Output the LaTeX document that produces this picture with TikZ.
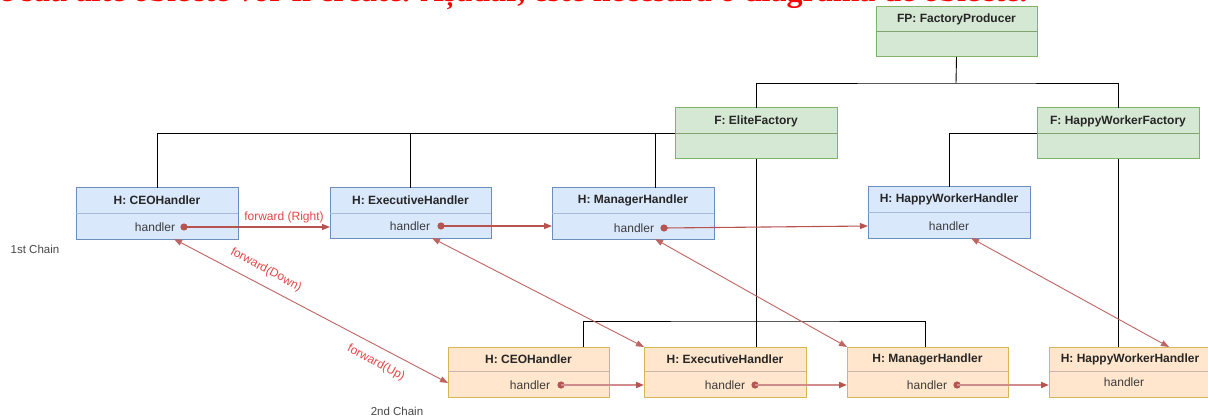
\documentclass[tikz,border=0pt]{standalone}
\usepackage{fontspec}
\setmainfont{Liberation Sans}
\newfontfamily\titleserif{Liberation Serif}
\usetikzlibrary{arrows.meta}
\definecolor{bfill}{HTML}{DAE8FC}\definecolor{bline}{HTML}{6C8EBF}
\definecolor{ofill}{HTML}{FFE6CC}\definecolor{oline}{HTML}{D6B656}
\definecolor{gfill}{HTML}{D5E8D4}\definecolor{gline}{HTML}{82B366}
\definecolor{fwdc}{HTML}{B85450}
\definecolor{fwdl}{RGB}{208,140,140}
\definecolor{lblc}{HTML}{E04848}
\definecolor{txtc}{HTML}{262626}
\newcommand{\umlbox}[8]{%
  \node[#2, anchor=north west, minimum width={(#5-#3)*1pt}, minimum height={(#6-#4)*1pt}] (#1) at (#3,#4) {};
  \draw[#2div] (#1.west |- 0,#7) -- (#1.east |- 0,#7);
  \node[ttl] (#1-t) at ({(#3+#5)/2},{(#4+#7)/2}) {#8};
}
\newcommand{\hdl}[3]{\node[hdlt] (#1-h) at (#2,#3) {handler};}
\newcommand{\hdldot}[4]{\node[hdlt] (#1-h) at (#2,#3) {handler};
  \coordinate (#1-d) at (#4,#3);
  \fill[fwdc] (#1-d) circle (3.6pt);}
\begin{document}
\begin{tikzpicture}[x=1pt,y=-1pt,
  bbox/.style={draw=bline, fill=bfill, line width=1pt, inner sep=0pt, outer sep=0pt},
  bboxdiv/.style={draw=bline!60, line width=1pt},
  obox/.style={draw=oline, fill=ofill, line width=1pt, inner sep=0pt, outer sep=0pt},
  oboxdiv/.style={draw={rgb,255:red,200;green,180;blue,170}, line width=1pt},
  gbox/.style={draw=gline, fill=gfill, line width=1pt, inner sep=0pt, outer sep=0pt},
  gboxdiv/.style={draw=gline!70!gray, line width=1pt},
  ttl/.style={font=\bfseries\fontsize{12}{14}\selectfont, text=txtc, inner sep=0pt},
  hdlt/.style={font=\fontsize{12}{14}\selectfont, text=txtc!90, inner sep=0pt},
  tree/.style={draw=black, line width=0.9pt},
  fwdA/.style={draw=fwdc, line width=1.1pt, -{Triangle[length=8pt,width=6pt]}},
  fwdB/.style={draw=fwdl, line width=1.8pt, -{Triangle[length=8pt,width=6pt,color=fwdc]}},
  bi/.style={draw=fwdc!90, line width=0.9pt, {Triangle[length=8pt,width=6pt]}-{Triangle[length=8pt,width=6pt]}},
  lbl/.style={font=\fontsize{12}{14}\selectfont, text=lblc, inner sep=0pt},
  chain/.style={font=\fontsize{11.5}{13}\selectfont, text=txtc!85, inner sep=0pt}]
\useasboundingbox (0,0) rectangle (1208,417);
\clip (0,0) rectangle (1208,417);
\fill[white] (0,0) rectangle (1208,417);
% clipped heading
\node[anchor=base west, inner sep=0pt, text=red, font=\titleserif\bfseries\fontsize{32}{36}\selectfont] (heading) at (-1,2) {e sau alte obiecte vor fi create. Așadar, este necesară o diagramă de obiecte.};
% boxes
\umlbox{fp}{gbox}{876}{7}{1037}{57}{32}{FP: FactoryProducer}
\umlbox{ef}{gbox}{675}{108}{837}{159}{134}{F: EliteFactory}
\umlbox{hwf}{gbox}{1037}{108}{1199}{159}{134}{F: HappyWorkerFactory}
\umlbox{ceoA}{bbox}{76}{188}{238}{239}{213}{H: CEOHandler}
\umlbox{execA}{bbox}{330}{188}{491}{238}{213}{H: ExecutiveHandler}
\umlbox{mgrA}{bbox}{552}{188}{714}{239}{213}{H: ManagerHandler}
\umlbox{hwA}{bbox}{868}{187}{1030}{238}{212}{H: HappyWorkerHandler}
\umlbox{ceoB}{obox}{448}{347}{609}{397}{371}{H: CEOHandler}
\umlbox{execB}{obox}{644}{347}{806}{397}{371}{H: ExecutiveHandler}
\umlbox{mgrB}{obox}{847}{347}{1008}{397}{371}{H: ManagerHandler}
\umlbox{hwB}{obox}{1049}{347}{1211}{397}{371}{H: HappyWorkerHandler}
% handler rows
\hdldot{ceoA}{155}{227}{184}
\hdldot{execA}{410}{226}{441}
\hdldot{mgrA}{634}{228}{664}
\hdl{hwA}{949}{226}
\hdldot{ceoB}{530}{385}{561}
\hdldot{execB}{725}{385}{755}
\hdldot{mgrB}{927}{385}{957}
\hdl{hwB}{1124}{382}
% tree connectors
\coordinate (fpbus) at (956,83);
\draw[tree] (fp.south) -- (fpbus);
\draw[tree] (ef.north) |- (fpbus) -| (hwf.north);
\draw[tree] (ef.west) -| (ceoA.north);
\draw[tree] (execA.north) -- (execA.north |- ef.west);
\draw[tree] (655,0 |- mgrA.north) -- (655,0 |- ef.west);
\draw[tree] (hwf.west) -| (hwA.north);
\draw[tree] (hwf.south) -- (hwf.south |- hwB.north);
\coordinate (busB) at (756,321);
\draw[tree] (ef.south) -- (ef.south |- execB.north);
\draw[tree] (583,0 |- ceoB.north) |- (busB) -| (925,0 |- mgrB.north);
% chain 1
\draw[fwdA] (ceoA-d) -- (execA.west |- ceoA-d);
\draw[fwdA] (execA-d) -- (mgrA.west |- execA-d);
\draw[fwdA] (mgrA-d) -- (hwA.west |- hwA-h);
\node[lbl] (lblR) at (284,217) {forward (Right)};
% chain 2
\draw[fwdB] (ceoB-d) -- (execB.west |- ceoB-d);
\draw[fwdB] (execB-d) -- (mgrB.west |- execB-d);
\draw[fwdB] (mgrB-d) -- (hwB.west |- mgrB-d);
% diagonals
\draw[bi] (174,0 |- ceoA.south) -- (ceoB.west |- 0,383);
\draw[bi] (432,0 |- execA.south) -- (execB.north west);
\draw[bi] (655,0 |- mgrA.south) -- (mgrB.north west);
\draw[bi] (971,0 |- hwA.south) -- (1169,0 |- hwB.north);
\node[lbl, rotate=-28] (lblD) at (266,270) {forward(Down)};
\node[lbl, rotate=-28] (lblU) at (376,363) {forward(Up)};
% chain labels
\node[chain] (c1) at (35,249) {1st Chain};
\node[chain] (c2) at (397,411) {2nd Chain};
\end{tikzpicture}
\end{document}
